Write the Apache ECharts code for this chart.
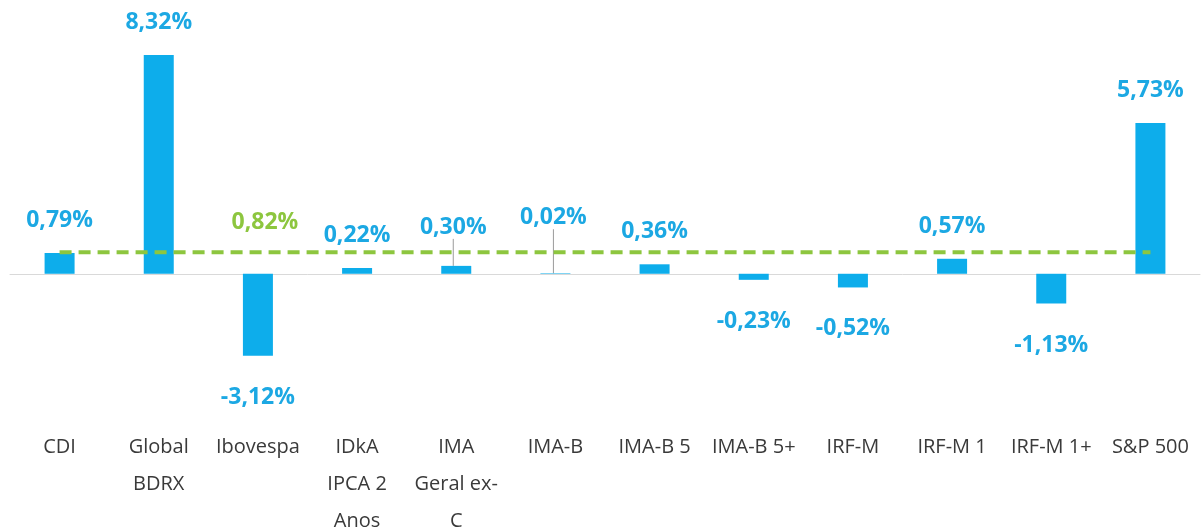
<!DOCTYPE html>
<html>
<head>
<meta charset="utf-8">
<script src="https://cdn.jsdelivr.net/npm/echarts@6/dist/echarts.min.js"></script>
<style>
  html, body { margin: 0; padding: 0; background: #fff; }
  #chart { width: 1203px; height: 532px; }
</style>
</head>
<body>
<div id="chart"></div>
<script>
const categories = ['CDI', 'Global\nBDRX', 'Ibovespa', 'IDkA\nIPCA 2\nAnos', 'IMA\nGeral ex-\nC', 'IMA-B',
  'IMA-B 5', 'IMA-B 5+', 'IRF-M', 'IRF-M 1', 'IRF-M 1+', 'S&P 500']
const returns = [0.79, 8.32, -3.12, 0.22, 0.30, 0.02, 0.36, -0.23, -0.52, 0.57, -1.13, 5.73]
const benchmark = [0.82, 0.82, 0.82, 0.82, 0.82, 0.82, 0.82, 0.82, 0.82, 0.82, 0.82, 0.82]
const benchmarkLabelIndex = 2

const blue = '#0DADEB'
const labelBlue = '#1CA8E3'
const green = '#8DC63F'
const fmt = v => v.toFixed(2).replace('.', ',') + '%'

// labels that were dragged away from their bar, with a leader line
const moved = { 4: [-3, -6], 5: [-2, -23] }

const barData = returns.map((v, i) => {
  const item = {
    value: v,
    label: { position: v < 0 ? 'bottom' : 'top', distance: v < 0 ? 30 : 21 }
  }
  if (moved[i] !== undefined) {
    item.labelLine = { show: true, lineStyle: { color: '#9a9a9a', width: 1 } }
  }
  return item
})

const chart = echarts.init(document.getElementById('chart'))
chart.setOption({
  animation: false,
  grid: { left: 10, right: 3, top: 37, bottom: 153, outerBoundsMode: 'none' },
  xAxis: {
    type: 'category',
    data: categories,
    axisLine: { onZero: true, lineStyle: { color: '#d9d9d9', width: 1 } },
    axisTick: { show: false },
    axisLabel: {
      interval: 0,
      margin: 50,
      color: '#3a3a3a',
      fontFamily: 'Open Sans',
      fontSize: 20,
      lineHeight: 37
    }
  },
  yAxis: {
    type: 'value',
    show: false,
    min: -4,
    max: 9,
    splitLine: { show: false }
  },
  series: [
    {
      type: 'bar',
      data: barData,
      barWidth: 30,
      itemStyle: { color: blue },
      label: {
        show: true,
        formatter: p => fmt(p.value),
        color: labelBlue,
        fontFamily: 'Open Sans',
        fontWeight: 'bold',
        fontSize: 23
      },
      labelLayout: p => (moved[p.dataIndex] !== undefined
        ? { dx: moved[p.dataIndex][0], dy: moved[p.dataIndex][1] } : {}),
      z: 2
    },
    {
      type: 'line',
      data: benchmark.map((v, i) => ({
        value: v,
        label: { show: i === benchmarkLabelIndex }
      })),
      symbol: 'circle',
      symbolSize: 1,
      showSymbol: true,
      itemStyle: { color: 'rgba(0,0,0,0)' },
      lineStyle: { color: green, width: 4, type: [12, 7] },
      label: {
        position: 'top',
        distance: 18,
        offset: [7, 0],
        formatter: p => fmt(p.value),
        color: green,
        fontFamily: 'Open Sans',
        fontWeight: 'bold',
        fontSize: 23
      },
      z: 3
    }
  ]
})
</script>
</body>
</html>
